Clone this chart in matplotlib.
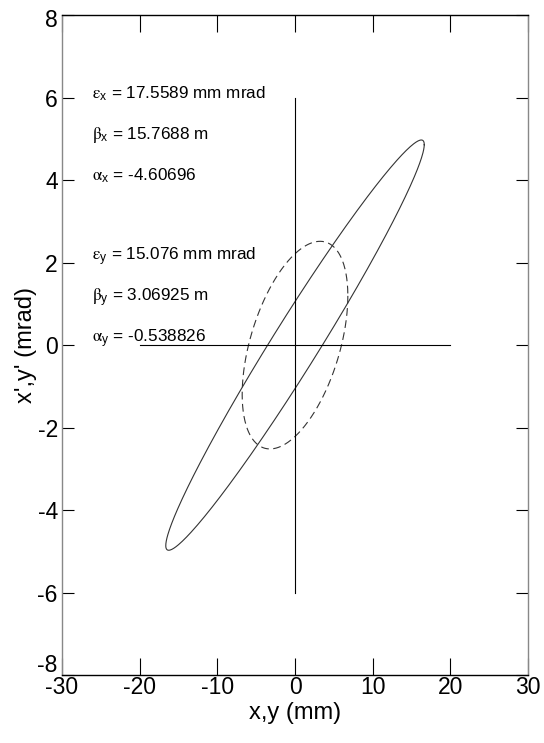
import numpy as np
import matplotlib.pyplot as plt
from matplotlib.transforms import ScaledTranslation

plt.rcParams['font.family'] = ['Liberation Sans', 'DejaVu Sans']
plt.rcParams['mathtext.fontset'] = 'custom'
plt.rcParams['mathtext.rm'] = 'Liberation Sans'
plt.rcParams['mathtext.it'] = 'STIXGeneral'
plt.rcParams['axes.unicode_minus'] = False

# Twiss parameters shown on the plot (emittance mm mrad, beta m, alpha)
planes = ["x", "y"]
emittance = [17.5589, 15.076]
beta = [15.7688, 3.06925]
alpha = [-4.60696, -0.538826]
emit_labels = ["17.5589", "15.076"]
beta_labels = ["15.7688", "3.06925"]
alpha_labels = ["-4.60696", "-0.538826"]
styles = ["-", (0, (7, 4))]
text_top = [6.1, 2.15]

xticks = [-30, -20, -10, 0, 10, 20, 30]
yticks = [-8, -6, -4, -2, 0, 2, 4, 6, 8]

fig = plt.figure(figsize=(5.44, 7.43), dpi=100)
ax = fig.add_axes([0.114, 0.0915, 0.8566, 0.888])

# phase space ellipses from Twiss parameters
t = np.linspace(0, 2 * np.pi, 400)
for e, b, a, ls in zip(emittance, beta, alpha, styles):
    u = np.sqrt(e * b) * np.cos(t)
    up = -np.sqrt(e / b) * (a * np.cos(t) + np.sin(t))
    ax.plot(u, up, color='#333333', lw=0.8, linestyle=ls)

# cross hairs
ax.plot([0, 0], [-6, 6], color='black', lw=0.8)
ax.plot([-20, 20], [0, 0], color='black', lw=0.8)

for p, el, bl, al, y0 in zip(planes, emit_labels, beta_labels, alpha_labels, text_top):
    kw = dict(fontsize=12.3, va='center', ha='left')
    ax.text(-26.2, y0, r"$\epsilon_\mathrm{%s}$ = %s mm mrad" % (p, el), **kw)
    ax.text(-26.2, y0 - 1.0, r"$\beta_\mathrm{%s}$ = %s m" % (p, bl), **kw)
    ax.text(-26.2, y0 - 2.0, r"$\alpha_\mathrm{%s}$ = %s" % (p, al), **kw)

ax.set_xlim(-30, 30)
ax.set_ylim(-8, 8)
ax.set_xticks(xticks)
ax.set_yticks(yticks)
ax.tick_params(direction='in', top=True, right=True, labelsize=16.5, width=0.8)
ax.tick_params(axis='x', length=12, pad=1)
ax.tick_params(axis='y', length=8.5, pad=3)
ax.spines['left'].set_color('#888888')
ax.spines['right'].set_color('#888888')
for s in ax.spines.values():
    s.set_linewidth(1.0)
ax.set_xlabel("x,y (mm)", fontsize=17, labelpad=2)
ax.set_ylabel("x',y' (mrad)", fontsize=17, labelpad=0)

# nudge the end labels inward like the original
ylabels = ax.get_yticklabels()
ylabels[0].set_transform(ylabels[0].get_transform() + ScaledTranslation(0, 9 / 72, fig.dpi_scale_trans))
ylabels[-1].set_transform(ylabels[-1].get_transform() + ScaledTranslation(0, -2 / 72, fig.dpi_scale_trans))

fig.savefig("out.png", dpi=100)
